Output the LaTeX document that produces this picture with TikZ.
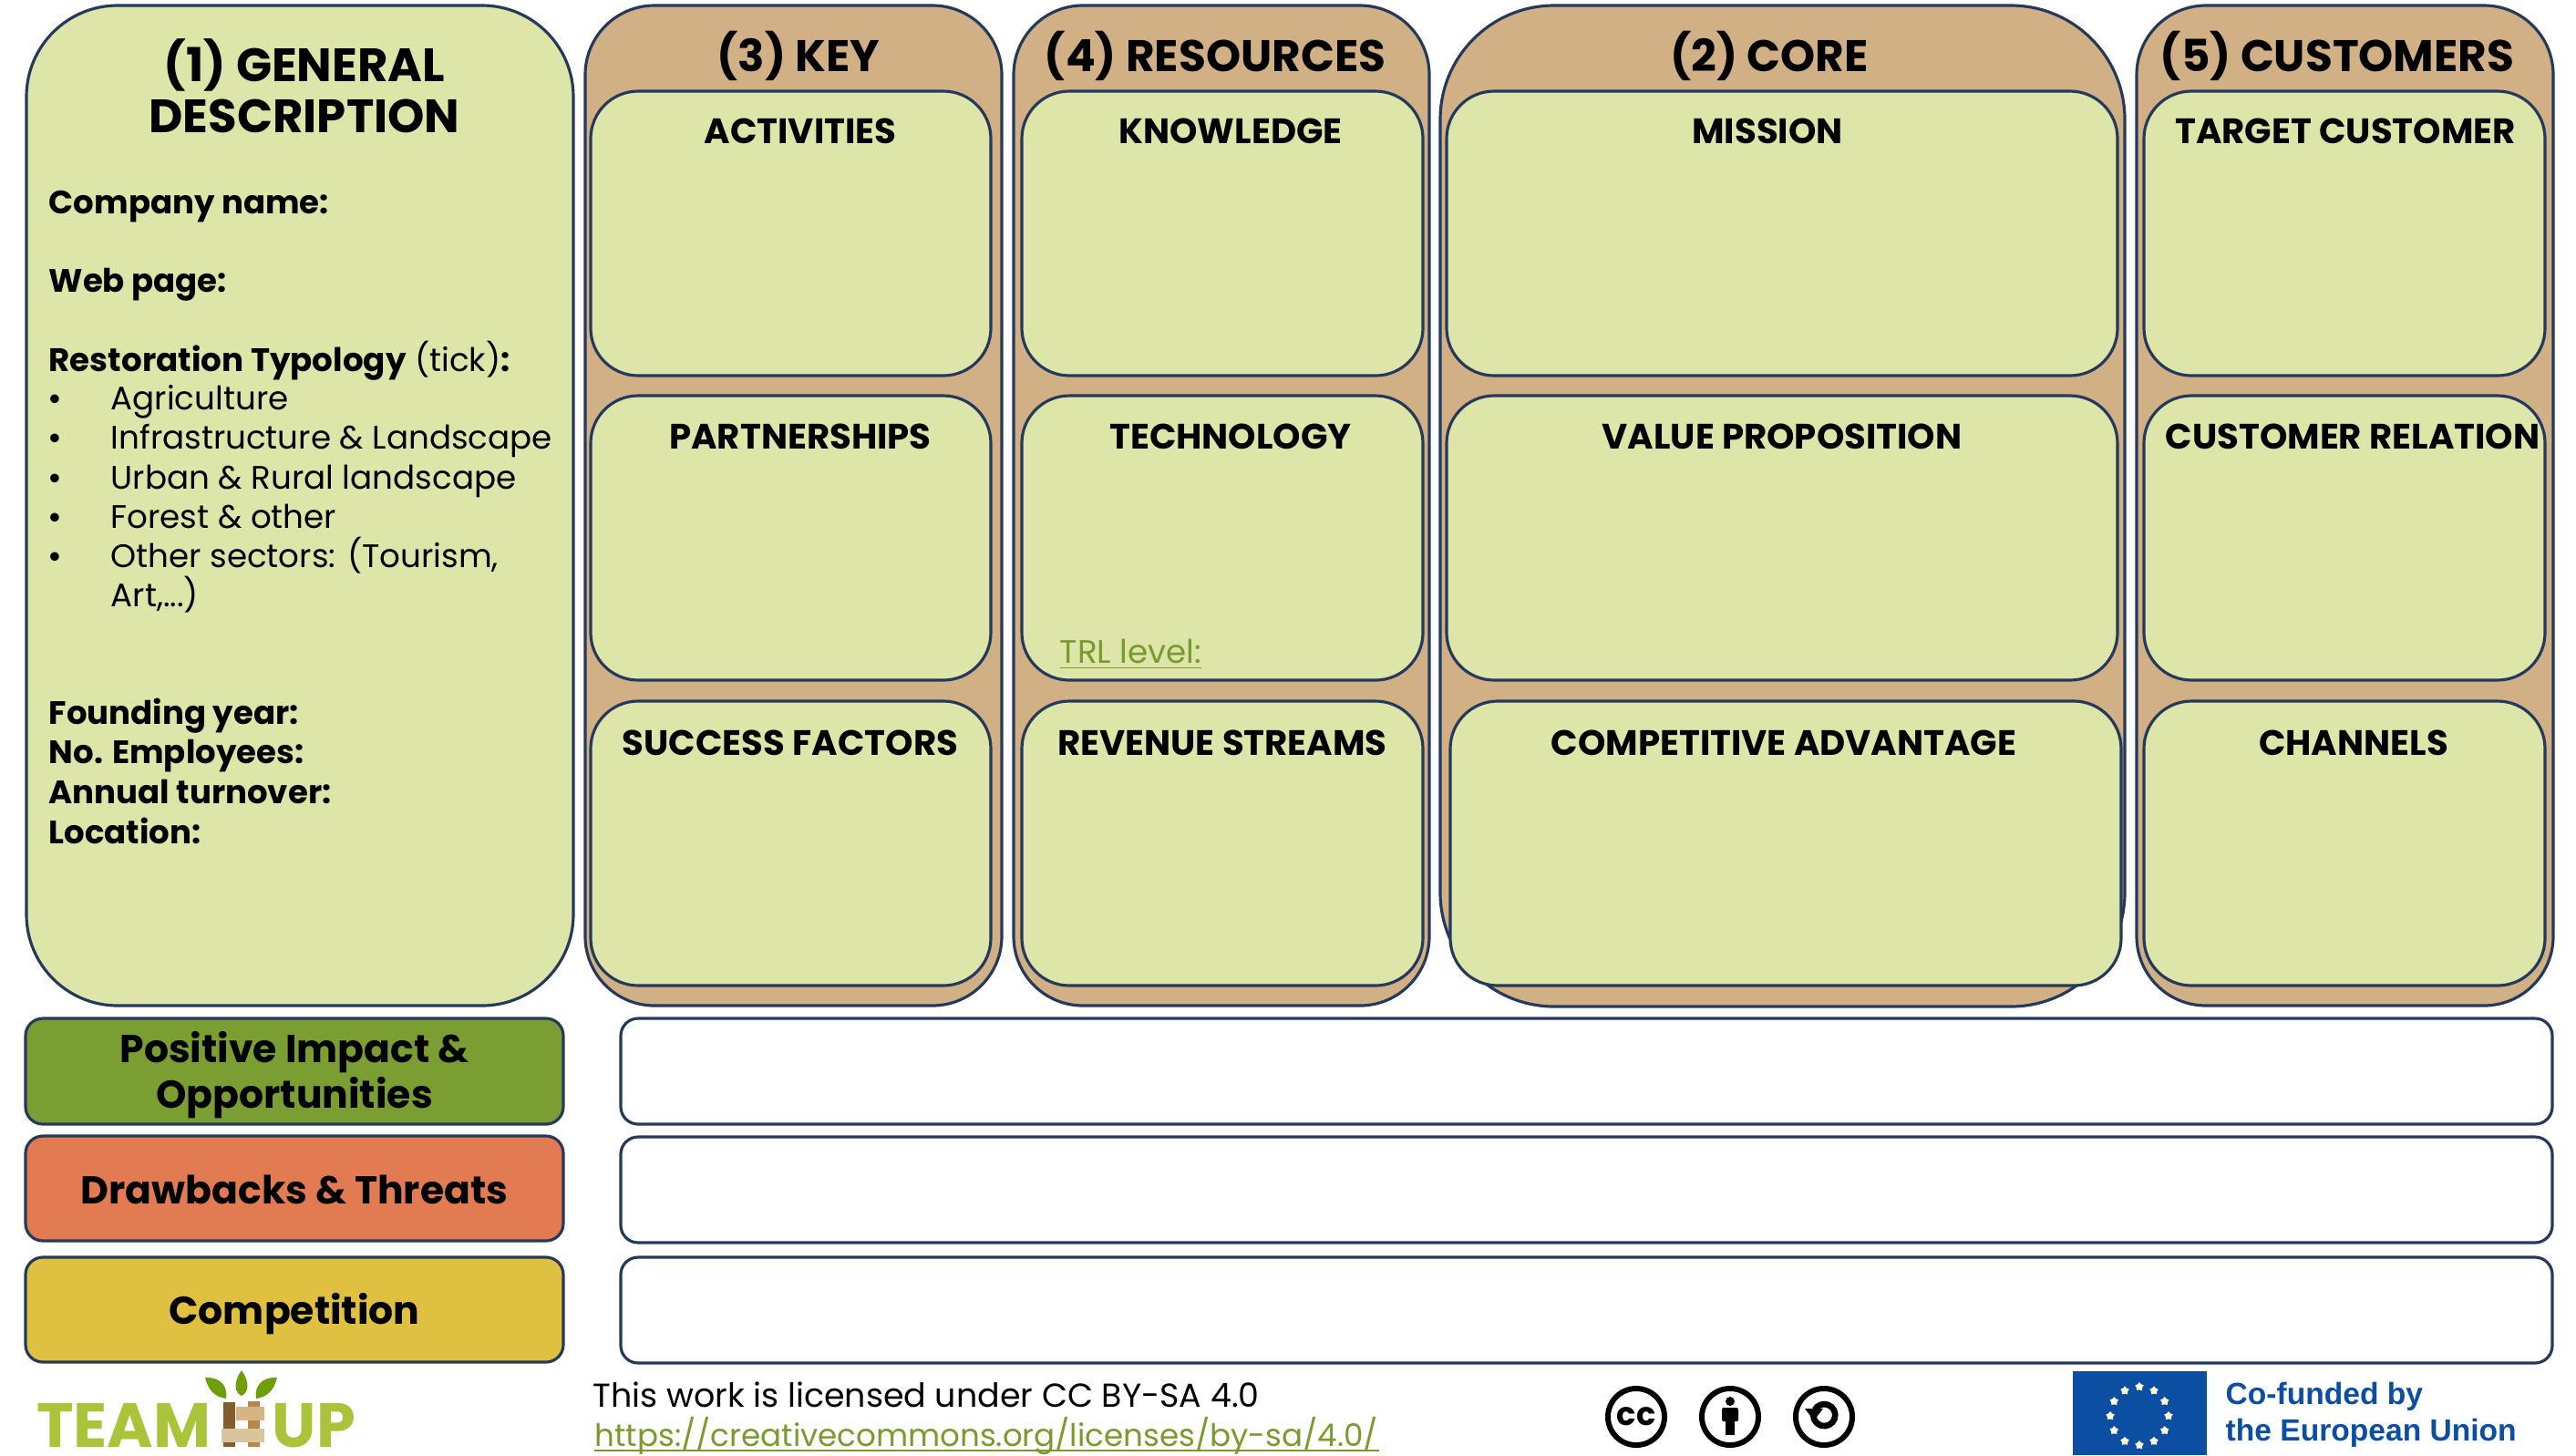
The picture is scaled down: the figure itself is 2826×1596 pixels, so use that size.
\documentclass[tikz,border=0pt]{standalone}
\usepackage{fontspec}
\setmainfont{Poppins}
\newfontfamily\eufont{Liberation Sans}
\usetikzlibrary{shapes.geometric}

\definecolor{boxline}{HTML}{25395C}
\definecolor{paleGreen}{HTML}{DEE5A8}
\definecolor{tanBack}{HTML}{D0B084}
\definecolor{impactGreen}{HTML}{7B9E32}
\definecolor{threatRed}{HTML}{E37B52}
\definecolor{rivalYellow}{HTML}{E0C041}
\definecolor{linkGreen}{HTML}{7A9A2E}
\definecolor{logoGreen}{HTML}{A9C439}
\definecolor{leafGreen}{HTML}{6E9E0A}
\definecolor{euBlue}{HTML}{0B4EA2}
\definecolor{logDark}{HTML}{875C2C}
\definecolor{logMid}{HTML}{B5874E}
\definecolor{logPale}{HTML}{D6B483}
\definecolor{logLight}{HTML}{D9C49B}

\tikzset{
  outerbox/.style={draw=boxline,line width=0.9pt,fill=tanBack},
  innerbox/.style={draw=boxline,line width=0.9pt,fill=paleGreen,rounded corners=0.52cm},
  barbox/.style={draw=boxline,line width=0.9pt,rounded corners=0.19cm},
  coltitle/.style={font=\fontsize{13.8}{17}\selectfont\bfseries,inner sep=0pt,anchor=base},
  subtitle/.style={font=\fontsize{11}{13}\selectfont\bfseries,inner sep=0pt,anchor=base},
  infotext/.style={font=\fontsize{10.15}{13}\selectfont,anchor=base west,inner sep=0pt},
  infobold/.style={infotext,font=\fontsize{10.1}{13}\selectfont\bfseries},
  bartext/.style={font=\fontsize{12.1}{14.2}\selectfont\bfseries,inner sep=0pt,anchor=base},
  ccring/.style={draw=black,line width=1.7pt,minimum size=0.62cm,circle,inner sep=0pt},
  logoword/.style={font=\fontsize{19.5}{22}\selectfont\bfseries,text=logoGreen,inner sep=0pt},
  eutext/.style={anchor=base west,inner sep=0pt,text=euBlue,font=\eufont\fontsize{9.55}{12}\selectfont\bfseries},
}

\begin{document}
\begin{tikzpicture}[x=0.01cm,y=-0.01cm]

\useasboundingbox (0,0) rectangle (2826,1596);

% general description
\draw[outerbox,fill=paleGreen,rounded corners=1cm] (29,6) rectangle (629,1103);
\node[coltitle,font=\fontsize{14.6}{17}\selectfont\bfseries] (general) at (334,89) {(1) GENERAL};
\node[coltitle,font=\fontsize{14.6}{17}\selectfont\bfseries] (description) at (334,145) {DESCRIPTION};

\node[infobold] (company) at (53,234) {Company name:};
\node[infobold] (webpage) at (53,320) {Web page:};
\node[infotext] (typology) at (53,407) {\textbf{Restoration Typology} (tick)\textbf{:}};

\foreach \y/\t in {436/Agriculture,479/Infrastructure \& Landscape,523/Urban \& Rural landscape,566/Forest \& other,609/{Other sectors: (Tourism,}}{
  \node[font=\eufont\fontsize{10}{10}\selectfont,inner sep=0pt,anchor=base] at (60,\y+13) {\textbullet};
  \node[infotext] at (121,\y+13) {\t};
}
\node[infotext] (art) at (121,665) {Art,...)};

\foreach \y/\t in {794/Founding year:,837/No. Employees:,881/Annual turnover:,925/Location:}{
  \node[infobold] at (53,\y) {\t};
}

% the four columns
\draw[outerbox,rounded corners=0.76cm] (642,6) rectangle (1099,1103);
\draw[outerbox,rounded corners=0.76cm] (1112,6) rectangle (1568,1103);
\draw[outerbox,rounded corners=1.25cm] (1580,6) rectangle (2331,1104);
\draw[outerbox,rounded corners=0.76cm] (2344,6) rectangle (2801,1103);

\node[coltitle] (key) at (876,78) {(3) KEY};
\node[coltitle] (resources) at (1333,78) {(4) RESOURCES};
\node[coltitle] (core) at (1941,78) {(2) CORE};
\node[coltitle] (customers) at (2564,78) {(5) CUSTOMERS};

% inner boxes
\draw[innerbox] (648,100) rectangle (1087,412);
\draw[innerbox] (648,434) rectangle (1087,746);
\draw[innerbox] (648,769) rectangle (1087,1081);

\draw[innerbox] (1121,100) rectangle (1561,412);
\draw[innerbox] (1121,434) rectangle (1561,746);
\draw[innerbox] (1121,769) rectangle (1561,1081);

\draw[innerbox] (1587,100) rectangle (2323,412);
\draw[innerbox] (1587,434) rectangle (2323,746);
\draw[innerbox] (1591,769) rectangle (2327,1081);

\draw[innerbox] (2352,100) rectangle (2792,412);
\draw[innerbox] (2352,434) rectangle (2792,746);
\draw[innerbox] (2352,769) rectangle (2792,1081);

\node[subtitle] (activities) at (878,157) {ACTIVITIES};
\node[subtitle] (partnerships) at (878,492) {PARTNERSHIPS};
\node[subtitle] (success) at (867,828) {SUCCESS FACTORS};

\node[subtitle] (knowledge) at (1350,157) {KNOWLEDGE};
\node[subtitle] (technology) at (1350,492) {TECHNOLOGY};
\node[subtitle] (revenue) at (1341,828) {REVENUE STREAMS};
\node[infotext,text=linkGreen] (trl) at (1162,727) {\underline{TRL level:}};

\node[subtitle] (mission) at (1939,157) {MISSION};
\node[subtitle] (value) at (1955,492) {VALUE PROPOSITION};
\node[subtitle] (advantage) at (1957,828) {COMPETITIVE ADVANTAGE};

\node[subtitle] (target) at (2573,157) {TARGET CUSTOMER};
\node[subtitle] (relation) at (2581,492) {CUSTOMER RELATION};
\node[subtitle] (channels) at (2582,828) {CHANNELS};

% bars
\draw[barbox,fill=impactGreen] (28,1117) rectangle (618,1233);
\draw[barbox,fill=threatRed] (28,1246) rectangle (618,1361);
\draw[barbox,fill=rivalYellow] (28,1379) rectangle (618,1494);

\node[bartext] (impact) at (323,1165) {Positive Impact \&};
\node[bartext] (opportunities) at (323,1215) {Opportunities};
\node[bartext] (threats) at (323,1320) {Drawbacks \& Threats};
\node[bartext] (rivals) at (323,1452) {Competition};

\draw[barbox,fill=white] (681,1117) rectangle (2800,1233);
\draw[barbox,fill=white] (681,1247) rectangle (2800,1363);
\draw[barbox,fill=white] (681,1379) rectangle (2800,1495);

% logo
\fill[leafGreen] (265,1503) .. controls (255,1517) and (258,1528) .. (265,1531) .. controls (272,1528) and (275,1517) .. (265,1503);
\fill[leafGreen] (225,1511) .. controls (245,1510) and (250,1524) .. (248,1534) .. controls (234,1532) and (228,1523) .. (225,1511);
\fill[leafGreen] (304,1511) .. controls (284,1510) and (279,1524) .. (281,1534) .. controls (295,1532) and (301,1523) .. (304,1511);

\node[logoword,anchor=base east] (team) at (232,1587) {TEAM};
\node[logoword,anchor=base west] (up) at (298,1587) {UP};

\fill[logDark] (245,1538) rectangle (258,1587);
\fill[logMid] (272,1537) rectangle (285,1587);
\fill[logPale] (259,1543) rectangle (290,1558);
\fill[logLight] (243,1567) rectangle (290,1582);

% licence line
\node[infotext,font=\fontsize{10.35}{13}\selectfont] (licence) at (650,1543) {This work is licensed under CC BY-SA 4.0};
\node[infotext,font=\fontsize{9.7}{13}\selectfont,text=linkGreen] (url) at (652,1586) {https://creativecommons.org/licenses/by-sa/4.0/};
\draw[linkGreen,line width=0.7pt] ([yshift=-0.05cm]url.base west) -- ([yshift=-0.05cm]url.base east);

\node[ccring,font=\fontsize{10}{10}\selectfont\bfseries] (cc) at (1795,1554) {cc};

\node[ccring] (by) at (1898,1554) {};
\fill (1898,1537) circle (5);
\fill[rounded corners=0.02cm] (1889,1544) rectangle (1907,1559);
\fill (1893,1550) rectangle (1903,1574);

\node[ccring] (sa) at (2001,1554) {};
\draw[line width=1.9pt] (1990,1548) arc (200:-150:12);
\fill (1980,1545) -- (2000,1545) -- (1990,1558) -- cycle;

% eu flag
\fill[euBlue] (2274,1504) rectangle (2421,1596);
\foreach \a in {0,30,...,330}{
  \node[star,star points=5,fill=white!85!yellow,minimum size=0.1cm,inner sep=0pt] at ({2347+32*cos(\a)},{1553+32*sin(\a)}) {};
}
\node[eutext] (cofund) at (2441,1540) {Co-funded by};
\node[eutext] (union) at (2441,1580) {the European Union};

\end{tikzpicture}
\end{document}
